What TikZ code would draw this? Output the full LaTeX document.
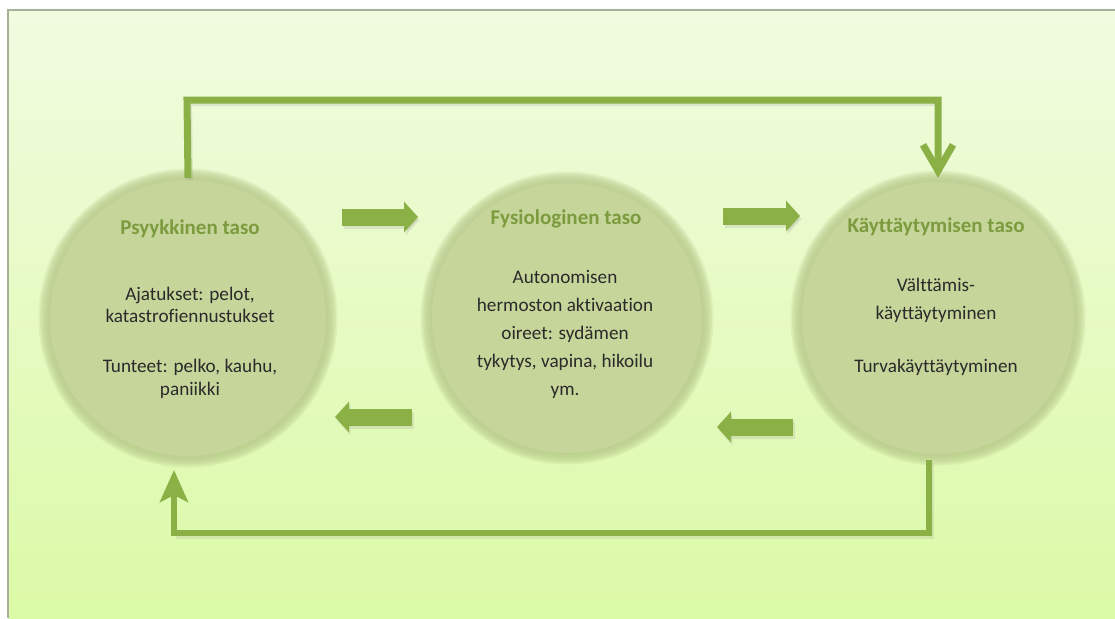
\documentclass[tikz,border=0pt]{standalone}
\usepackage{fontspec}
\setmainfont{Carlito}[Ligatures={NoCommon}]
\usetikzlibrary{arrows.meta}
\definecolor{bgtop}{HTML}{F1FBE0}
\definecolor{bgbot}{HTML}{DBFAA6}
\definecolor{circfill}{HTML}{C6D69B}
\definecolor{circrim}{HTML}{B9CB8C}
\definecolor{arrowcol}{HTML}{8AB046}
\definecolor{titlecol}{HTML}{7C9A3E}
\definecolor{textcol}{HTML}{2A2A2A}
\definecolor{framecol}{HTML}{A9B09A}
\tikzset{
  blob/.style={circle, minimum size=280pt, inner sep=0pt},
  ttl/.style={font=\fontsize{21}{24}\selectfont\bfseries, text=titlecol},
  body/.style={font=\fontsize{19.2}{22.5}\selectfont, text=textcol, align=center},
  bodywide/.style={font=\fontsize{19.2}{28}\selectfont, text=textcol, align=center},
  blockarrow/.style={draw=arrowcol, line width=17pt, -{Triangle[length=14pt,width=30pt]}},
  blockshadow/.style={draw=black!40, opacity=0.22, line width=17pt, -{Triangle[length=14pt,width=30pt]}},
  loopline/.style={draw=arrowcol, line width=7pt, line join=miter},
  loopshadow/.style={draw=black!45, opacity=0.18, line width=7pt, line join=miter},
}
\newcommand{\softdisc}[2]{%
  \foreach \k in {1,...,8}{\fill[circrim, opacity=0.22] (#1) circle ({#2+6-1.5*\k});}
  \fill[circfill] (#1) circle ({#2-7});
}
\begin{document}
\begin{tikzpicture}[x=1pt,y=-1pt]
\useasboundingbox (0,0) rectangle (1115,618);
\fill[white] (0,0) rectangle (1115,618);
\shade[top color=bgtop, bottom color=bgbot] (8,10) rectangle (1115,618);
\draw[framecol, line width=2pt] (8,618) -- (8,10) -- (1115,10);

% circles
\node[blob] (psy) at (188,318) {};
\node[blob] (fys) at (567,318) {};
\node[blob] (kay) at (938,318) {};
\softdisc{psy.center}{145}
\softdisc{fys.center}{142}
\softdisc{kay.center}{143}

% texts
\node[ttl] (psyt) at (190,229) {Psyykkinen taso};
\node[body] (psy1) at (190,305) {Ajatukset: pelot,\\katastrofiennustukset};
\node[body] (psy2) at (190,379) {Tunteet: pelko, kauhu,\\paniikki};
\node[ttl] (fyst) at (566,219) {Fysiologinen taso};
\node[bodywide] (fys1) at (565,334) {Autonomisen\\hermoston aktivaation\\oireet: sydämen\\tykytys, vapina, hikoilu\\ym.};
\node[ttl] (kayt) at (936,227) {Käyttäytymisen taso};
\node[bodywide] (kay1) at (936,300) {Välttämis-\\käyttäytyminen};
\node[body] (kay2) at (936,367) {Turvakäyttäytyminen};

% block arrows
\coordinate (a1s) at (342,217); \coordinate (a1e) at (418,217);
\coordinate (a2s) at (723,216); \coordinate (a2e) at (800,216);
\coordinate (a3s) at (412,417); \coordinate (a3e) at (335,417);
\coordinate (a4s) at (793,427); \coordinate (a4e) at (717,427);
\foreach \s/\e in {a1s/a1e,a2s/a2e,a3s/a3e,a4s/a4e}{
  \draw[blockshadow] ([shift={(1.5,3)}]\s) -- ([shift={(1.5,3)}]\e);
  \draw[blockarrow] (\s) -- (\e);
}

% top loop
\coordinate (topL) at (187,100);
\coordinate (topR) at (938,100);
\draw[loopshadow] ([shift={(1.5,2.5)}]psy.north) -- ([shift={(1.5,2.5)}]topL) -- ([shift={(1.5,2.5)}]topR);
\draw[loopline, -{Straight Barb[length=26pt,width=30pt,line width=7pt]}] (psy.north) -- (topL) -- (topR) -- (kay.north);

% bottom loop
\coordinate (botR) at (929,533);
\coordinate (botL) at (174,533);
\coordinate (kayS) at (929,460);
\coordinate (psyS) at (174,470);
\draw[loopshadow] ([shift={(1.5,2.5)}]kayS) -- ([shift={(1.5,2.5)}]botR) -- ([shift={(1.5,2.5)}]botL);
\draw[loopline, line width=6.5pt, -{Stealth[length=32pt,width=28pt,inset=7pt]}] (kayS) -- (botR) -- (botL) -- (psyS);
\end{tikzpicture}
\end{document}
